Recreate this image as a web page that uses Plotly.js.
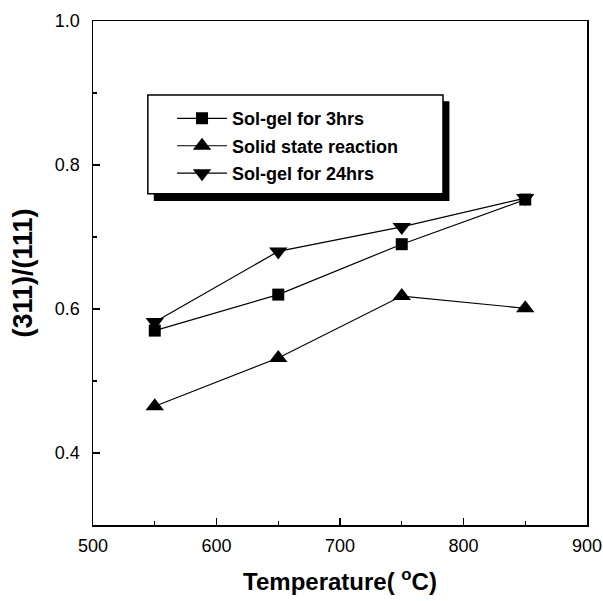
<!DOCTYPE html>
<html>
<head>
<meta charset="utf-8">
<script src="https://cdn.plot.ly/plotly-3.0.1.min.js"></script>
<style>html,body{margin:0;padding:0;background:#fff;}#chart{width:603px;height:601px;}</style>
</head>
<body>
<div id="chart"></div>
<script>
// Data
const temperature = [550, 650, 750, 850];
const solGel3hrs = [0.57, 0.62, 0.69, 0.752];
const solidState = [0.465, 0.532, 0.618, 0.601];
const solGel24hrs = [0.582, 0.68, 0.714, 0.754];
const seriesNames = ['Sol-gel for 3hrs', 'Solid state reaction', 'Sol-gel for 24hrs'];
const xTickVals = [500, 600, 700, 800, 900];
const yTickVals = [0.4, 0.6, 0.8, 1.0];

const FONT = 'Liberation Sans, Arial, sans-serif';
const lineStyle = {color: '#000', width: 1.2};

const traces = [
  {x: temperature, y: solGel3hrs, name: seriesNames[0], legendgroup: 'a',
   mode: 'lines+markers', line: lineStyle,
   marker: {symbol: 'square', size: 12, color: '#000'}},
  {x: temperature, y: solidState, name: seriesNames[1], legendgroup: 'b',
   mode: 'lines+markers', line: lineStyle,
   marker: {symbol: 'triangle-up', size: 16, color: '#000'}},
  {x: temperature, y: solGel24hrs, name: seriesNames[2], legendgroup: 'c',
   mode: 'lines+markers', line: lineStyle,
   marker: {symbol: 'triangle-down', size: 16, color: '#000'}}
];

const layout = {
  width: 603, height: 601,
  margin: {l: 93, r: 16, t: 21, b: 76},
  paper_bgcolor: '#fff', plot_bgcolor: '#fff',
  font: {family: FONT, color: '#000'},
  showlegend: true,
  legend: {
    x: 0.16, y: 0.843, xanchor: 'left', yanchor: 'top',
    bgcolor: 'rgba(0,0,0,0)', borderwidth: 0,
    itemwidth: 50, tracegroupgap: 1,
    font: {family: FONT, size: 18, color: '#000', weight: 'bold'}
  },
  xaxis: {
    range: [500, 900], tickvals: xTickVals,
    ticks: 'inside', ticklen: 7, tickwidth: 1.5, tickcolor: '#000',
    minor: {dtick: 50, tick0: 500, ticks: 'inside', ticklen: 4, tickwidth: 1.2, tickcolor: '#000'},
    showline: true, linecolor: '#000', linewidth: 1.5, mirror: true,
    showgrid: false, zeroline: false,
    tickfont: {family: FONT, size: 18, color: '#000'},
    ticklabelstandoff: 4,
    title: {text: 'Temperature( <sup>o</sup>C)', standoff: 18,
            font: {family: FONT, size: 24, color: '#000', weight: 'bold'}}
  },
  yaxis: {
    range: [0.3, 1.0], tickvals: yTickVals, tickformat: '.1f',
    ticks: 'inside', ticklen: 7, tickwidth: 1.5, tickcolor: '#000',
    minor: {dtick: 0.1, tick0: 0.3, ticks: 'inside', ticklen: 4, tickwidth: 1.2, tickcolor: '#000'},
    showline: true, linecolor: '#000', linewidth: 1.5, mirror: true,
    showgrid: false, zeroline: false,
    tickfont: {family: FONT, size: 18, color: '#000'},
    ticklabelstandoff: 8,
    title: {text: '(311)/(111)', standoff: 14,
            font: {family: FONT, size: 27, color: '#000', weight: 'bold'}}
  },
  shapes: [
    {type: 'rect', xref: 'paper', yref: 'paper', layer: 'below',
     x0: 0.123, x1: 0.7215, y0: 0.643, y1: 0.841,
     fillcolor: '#000', line: {width: 0}},
    {type: 'rect', xref: 'paper', yref: 'paper', layer: 'below',
     x0: 0.111, x1: 0.7085, y0: 0.657, y1: 0.853,
     fillcolor: '#fff', line: {color: '#000', width: 1.5}}
  ]
};

Plotly.newPlot('chart', traces, layout, {displayModeBar: false, staticPlot: true});
</script>
</body>
</html>
